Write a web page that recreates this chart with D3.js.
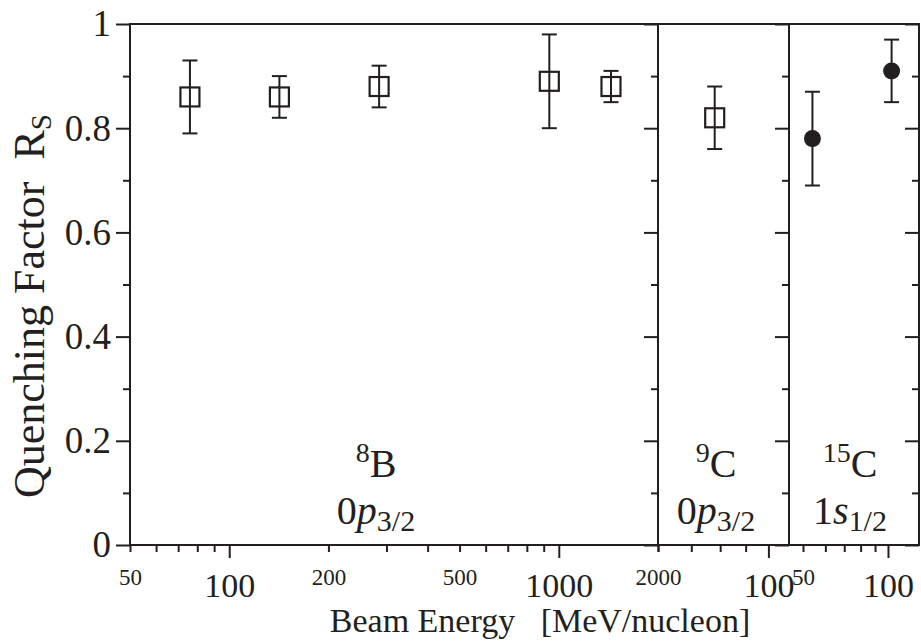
<!DOCTYPE html>
<html><head>
<meta charset="utf-8">
<script src="https://d3js.org/d3.v7.min.js"></script>
<style>
  body { margin: 0; background: #fff; }
  text { font-family: "Liberation Serif", "Times New Roman", serif; fill: #231f20; }
</style>
</head>
<body>
<svg id="graph" width="921" height="643"></svg>
<script>
// values
const yMajor = [0, 0.2, 0.4, 0.6, 0.8, 1];
const yMinor = [0.1, 0.3, 0.5, 0.7, 0.9];

const b8Energy = [76, 142, 285, 936, 1440];
const b8Rs = [0.86, 0.86, 0.88, 0.89, 0.88];
const b8Err = [0.07, 0.04, 0.04, 0.09, 0.03];

const c9Energy = [78];
const c9Rs = [0.82];
const c9Err = [0.06];

const c15Energy = [54, 103];
const c15Rs = [0.78, 0.91];
const c15Err = [0.09, 0.06];

// x ticks per panel
const p1Big = [100, 1000], p1Small = [50, 200, 500, 2000], p1Minor = [60, 70, 80, 90, 300, 400, 600, 700, 800, 900];
const p2Big = [100], p2Small = [], p2Minor = [60, 70, 80, 90];
const p3Big = [100], p3Small = [50], p3Minor = [60, 70, 80, 90];

const svg = d3.select("#graph");
const plotTop = 24, plotBottom = 545;
const ink = "#231f20";

const y = d3.scaleLinear().domain([0, 1]).range([plotBottom, plotTop]);

const panels = [
  {x: d3.scaleLog().domain([50, 2000]).range([130, 658]), big: p1Big, small: p1Small, minor: p1Minor, labelX: 376,
   energy: b8Energy, rs: b8Rs, err: b8Err, marker: "square", nuc: "8", el: "B", orb: "0", l: "p", j: "3/2"},
  {x: d3.scaleLog().domain([60, 110]).range([658, 789]), big: p2Big, small: p2Small, minor: p2Minor, labelX: 716,
   energy: c9Energy, rs: c9Rs, err: c9Err, marker: "square", nuc: "9", el: "C", orb: "0", l: "p", j: "3/2"},
  {x: d3.scaleLog().domain([44.6, 128.8]).range([789, 919]), big: p3Big, small: p3Small, minor: p3Minor, labelX: 850,
   energy: c15Energy, rs: c15Rs, err: c15Err, marker: "circle", nuc: "15", el: "C", orb: "1", l: "s", j: "1/2"}
];

function styleAxis(g) {
  g.select(".domain").remove();
  g.selectAll(".tick line").attr("stroke", ink).attr("stroke-width", 2);
}

// left y axis (ticks outside)
svg.append("g").attr("transform", `translate(130,0)`)
  .call(d3.axisLeft(y).tickValues(yMajor).tickSize(14).tickPadding(5).tickFormat(d => String(d)))
  .call(styleAxis)
  .call(g => g.selectAll("text").attr("font-size", 37).attr("fill", ink));
svg.append("g").attr("transform", `translate(130,0)`)
  .call(d3.axisLeft(y).tickValues(yMinor).tickSize(7).tickFormat(""))
  .call(styleAxis);

panels.forEach(p => {
  const [x0, x1] = p.x.range();

  // right-side inward ticks
  svg.append("g").attr("transform", `translate(${x1},0)`)
    .call(d3.axisRight(y).tickValues(yMajor).tickSize(-14).tickFormat(""))
    .call(styleAxis);
  svg.append("g").attr("transform", `translate(${x1},0)`)
    .call(d3.axisRight(y).tickValues(yMinor).tickSize(-7).tickFormat(""))
    .call(styleAxis);

  // bottom ticks
  svg.append("g").attr("transform", `translate(0,${plotBottom})`)
    .call(d3.axisBottom(p.x).tickValues(p.minor).tickSize(7).tickFormat(""))
    .call(styleAxis);
  svg.append("g").attr("transform", `translate(0,${plotBottom})`)
    .call(d3.axisBottom(p.x).tickValues(p.small).tickSize(7).tickPadding(17).tickFormat(d3.format("d")))
    .call(styleAxis)
    .call(g => g.selectAll("text").attr("font-size", 23).attr("fill", ink));
  svg.append("g").attr("transform", `translate(0,${plotBottom})`)
    .call(d3.axisBottom(p.x).tickValues(p.big).tickSize(13).tickPadding(15).tickFormat(d3.format("d")))
    .call(styleAxis)
    .call(g => g.selectAll("text").attr("font-size", 34).attr("fill", ink));

  // frame
  svg.append("rect").attr("x", x0).attr("y", plotTop).attr("width", x1 - x0).attr("height", plotBottom - plotTop)
    .attr("fill", "none").attr("stroke", ink).attr("stroke-width", 2);

  // error bars
  const pts = p.energy.map((e, i) => ({e: e, v: p.rs[i], d: p.err[i]}));
  const eb = svg.append("g").attr("stroke", ink).attr("stroke-width", 2);
  pts.forEach(d => {
    const cx = p.x(d.e);
    eb.append("line").attr("x1", cx).attr("x2", cx).attr("y1", y(d.v + d.d)).attr("y2", y(d.v - d.d));
    eb.append("line").attr("x1", cx - 7.5).attr("x2", cx + 7.5).attr("y1", y(d.v + d.d)).attr("y2", y(d.v + d.d));
    eb.append("line").attr("x1", cx - 7.5).attr("x2", cx + 7.5).attr("y1", y(d.v - d.d)).attr("y2", y(d.v - d.d));
  });

  if (p.marker === "square") {
    svg.append("g").selectAll("rect").data(pts).join("rect")
      .attr("x", d => p.x(d.e) - 9.5).attr("y", d => y(d.v) - 9.5)
      .attr("width", 19).attr("height", 19)
      .attr("fill", "none").attr("stroke", ink).attr("stroke-width", 2.2);
  } else {
    svg.append("g").selectAll("circle").data(pts).join("circle")
      .attr("cx", d => p.x(d.e)).attr("cy", d => y(d.v)).attr("r", 8.5)
      .attr("fill", ink);
  }

  // panel labels
  const t1 = svg.append("text").attr("x", p.labelX).attr("y", 477).attr("text-anchor", "middle").attr("font-size", 40);
  t1.append("tspan").attr("font-size", 28).attr("dy", -15).text(p.nuc);
  t1.append("tspan").attr("dy", 15).text(p.el);
  const t2 = svg.append("text").attr("x", p.labelX).attr("y", 524).attr("text-anchor", "middle").attr("font-size", 40);
  t2.append("tspan").text(p.orb);
  t2.append("tspan").attr("font-style", "italic").text(p.l);
  t2.append("tspan").attr("font-size", 30).attr("dy", 7).text(p.j);
});

// axis titles
svg.append("text").attr("x", 540).attr("y", 632).attr("text-anchor", "middle").attr("font-size", 34)
  .text("Beam Energy\u2002 [MeV/nucleon]");

const yt = svg.append("text").attr("transform", "translate(44,306) rotate(-90)")
  .attr("text-anchor", "middle").attr("font-size", 44);
yt.append("tspan").text("Quenching Factor\u2002R");
yt.append("tspan").attr("font-size", 29).attr("dy", 7).text("S");
</script>
</body>
</html>
